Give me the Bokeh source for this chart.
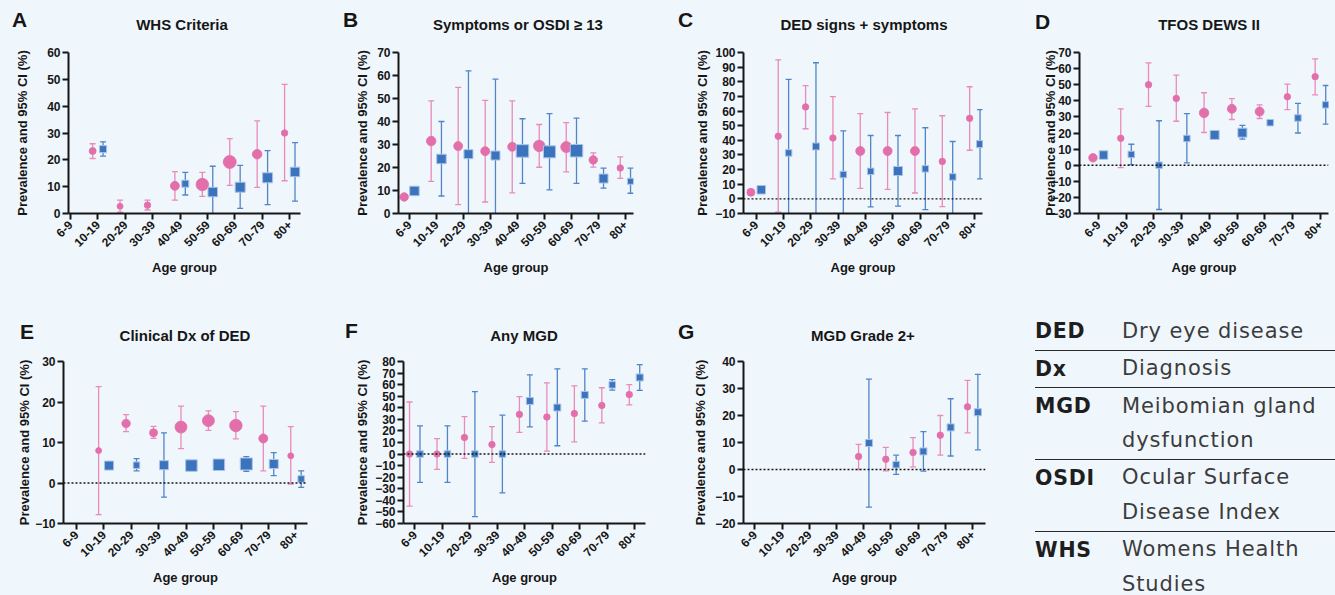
import numpy as np
from bokeh.plotting import figure
from bokeh.models import Range1d, FixedTicker, Span, Div
from bokeh.layouts import row, column
from bokeh.embed import file_html
from bokeh.resources import INLINE

N = float("nan")

age_groups = ["6-9", "10-19", "20-29", "30-39", "40-49", "50-59", "60-69", "70-79", "80+"]

# A: WHS Criteria  (pink = women, blue = men)
a_f = [N, 23.3, 2.7, 3.1, 10.3, 10.8, 19.2, 22.1, 30.0]
a_f_lo = [N, 20.5, 0.5, 1.3, 5.0, 6.4, 10.5, 9.7, 12.2]
a_f_hi = [N, 26.0, 5.0, 5.0, 15.6, 15.3, 27.9, 34.5, 48.1]
a_m = [N, 24.0, N, N, 11.1, 8.0, 9.8, 13.3, 15.5]
a_m_lo = [N, 21.4, N, N, 6.9, -1.5, 1.9, 3.3, 4.6]
a_m_hi = [N, 26.7, N, N, 15.3, 17.6, 17.9, 23.4, 26.4]

# B: Symptoms or OSDI >= 13
b_f = [7.2, 31.5, 29.3, 27.1, 29.0, 29.4, 28.9, 23.3, 19.8]
b_f_lo = [N, 14.0, 3.9, 5.0, 9.0, 20.1, 18.1, 20.2, 15.3]
b_f_hi = [N, 49.0, 54.8, 49.2, 49.0, 38.7, 39.5, 26.4, 24.6]
b_m = [9.8, 23.7, 25.8, 25.2, 27.2, 26.8, 27.3, 15.2, 14.0]
b_m_lo = [N, 7.6, -2.0, -2.0, 13.1, 10.3, 13.1, 11.0, 8.8]
b_m_hi = [N, 40.0, 62.0, 58.4, 41.2, 43.4, 41.5, 19.7, 19.7]

# C: DED signs + symptoms
c_f = [4.5, 42.8, 62.8, 41.6, 32.7, 32.7, 32.7, 25.6, 55.0]
c_f_lo = [N, -9.0, 47.9, 13.7, 7.1, 6.5, 4.0, -5.3, 33.2]
c_f_hi = [N, 95.0, 77.3, 69.8, 58.2, 59.0, 61.5, 56.8, 76.6]
c_m = [6.2, 31.4, 35.8, 16.6, 18.8, 19.0, 20.5, 15.0, 37.4]
c_m_lo = [N, -12.0, -12.0, -12.0, -5.5, -5.0, -7.4, -12.0, 13.7]
c_m_hi = [N, 81.6, 93.0, 46.4, 43.3, 43.3, 48.6, 39.2, 61.0]

# D: TFOS DEWS II
d_f = [4.6, 16.7, 50.0, 41.5, 32.5, 35.0, 33.3, 42.5, 55.0]
d_f_lo = [N, -1.5, 36.5, 27.3, 20.3, 28.4, 29.0, 34.5, 43.7]
d_f_hi = [N, 35.0, 63.5, 56.0, 45.0, 41.4, 37.5, 50.3, 66.0]
d_m = [6.3, 6.7, 0.0, 16.6, 18.8, 20.2, 26.4, 29.3, 37.5]
d_m_lo = [N, 0.3, -27.5, 1.4, N, 16.2, N, 20.0, 25.5]
d_m_hi = [N, 13.0, 27.6, 32.0, N, 24.7, N, 38.4, 49.5]

# E: Clinical Dx of DED
e_f = [N, 8.0, 14.7, 12.4, 13.8, 15.4, 14.2, 11.0, 6.7]
e_f_lo = [N, -7.8, 12.7, 11.0, 8.5, 13.0, 10.9, 3.0, -0.3]
e_f_hi = [N, 23.8, 16.9, 14.0, 19.0, 17.8, 17.6, 19.0, 13.9]
e_m = [N, 4.3, 4.4, 4.4, 4.3, 4.5, 4.7, 4.7, 1.0]
e_m_lo = [N, N, 3.0, -3.5, N, N, 2.9, 1.8, -1.1]
e_m_hi = [N, N, 6.0, 12.4, N, N, 6.5, 7.5, 3.0]

# F: Any MGD
f_f = [0.0, 0.0, 14.3, 8.2, 34.3, 32.0, 35.0, 42.0, 51.4]
f_f_lo = [-45.0, -13.3, -3.7, -7.2, 18.7, 2.6, 10.6, 27.0, 42.6]
f_f_hi = [45.0, 13.3, 32.4, 23.8, 49.6, 61.5, 59.0, 57.3, 60.1]
f_m = [0.0, 0.0, 0.0, 0.0, 45.9, 40.2, 51.1, 59.8, 66.2]
f_m_lo = [-24.4, -24.4, -54.0, -33.6, 23.5, 7.2, 28.4, 55.3, 55.0]
f_m_hi = [24.4, 24.4, 54.0, 33.6, 68.4, 73.7, 73.7, 64.4, 77.3]

# G: MGD Grade 2+
g_f = [N, N, N, N, 4.8, 3.8, 6.3, 12.7, 23.2]
g_f_lo = [N, N, N, N, 0.0, -0.5, 1.0, 5.3, 13.6]
g_f_hi = [N, N, N, N, 9.3, 8.2, 11.8, 20.0, 33.0]
g_m = [N, N, N, N, 9.8, 1.8, 6.7, 15.6, 21.2]
g_m_lo = [N, N, N, N, -13.9, -1.8, -0.6, 5.0, 7.3]
g_m_hi = [N, N, N, N, 33.5, 5.3, 14.0, 26.2, 35.2]

# marker sizes (weights shown by symbol size, px)
a_f_size = [6, 7, 6, 6.5, 9, 12.5, 13, 9.5, 6.5]
a_m_size = [6, 7, 6, 6, 7, 9.5, 10, 10, 9.5]
b_f_size = [8.5, 9.5, 9, 9, 9, 11.5, 11, 8.5, 6.5]
b_m_size = [9.5, 9.5, 9, 9, 12.5, 12, 12.5, 9, 6]
c_f_size = [8, 6.5, 6.5, 6.5, 9, 9, 9, 6.5, 6.5]
c_m_size = [8.5, 6.5, 7, 6.5, 6.5, 9, 6.5, 6.5, 7]
d_f_size = [8.5, 6.5, 6.5, 6.5, 9.5, 9, 9, 6.5, 6.5]
d_m_size = [8.5, 6.5, 6.5, 6.5, 9, 9, 6.5, 6.5, 6.5]
e_f_size = [6, 6, 8.5, 8, 12, 12, 12.5, 9, 6]
e_m_size = [6, 9, 6.5, 9, 11.5, 11.5, 12, 9, 6.5]
f_f_size = [6.5] * 9
f_m_size = [6.5, 6.5, 6.5, 6.5, 7, 7, 7, 6.5, 7]
g_f_size = [6.5] * 9
g_m_size = [6.5, 6.5, 6.5, 6.5, 7, 6.5, 7, 7, 7]

glossary_abbr = ["DED", "Dx", "MGD", "OSDI", "WHS"]
glossary_text = [["Dry eye disease"], ["Diagnosis"], ["Meibomian gland", "dysfunction"],
                 ["Ocular Surface", "Disease Index"], ["Womens Health", "Studies"]]

BG = "#F0F7FC"
PINK = "#E36FAA"
PINK_BAR = "#EA8ABB"
BLUE = "#3B74BD"
BLUE_BAR = "#5185C8"
INK = "#161616"
FONT = "Liberation Sans"
CSS_FONT = "'Liberation Sans', Arial, sans-serif"
FILL = {"background-color": BG}


def header(width, height, letter, letter_left, letter_cy, title, title_cx, title_cy):
    lt = letter_cy - 0.4885 * 21
    tt = title_cy - 0.4885 * 15
    html = (
        f'<div style="position:relative;width:{width}px;height:{height}px;background:{BG};overflow:hidden;">'
        f'<div style="position:absolute;left:{letter_left}px;top:{lt:.1f}px;font-family:{CSS_FONT};'
        f'font-weight:bold;font-size:21px;line-height:1;color:{INK};white-space:nowrap;">{letter}</div>'
        f'<div style="position:absolute;left:{title_cx - 160}px;width:320px;top:{tt:.1f}px;text-align:center;'
        f'font-family:{CSS_FONT};font-weight:bold;font-size:15px;line-height:1;color:{INK};'
        f'white-space:nowrap;">{title}</div>'
        '</div>'
    )
    return Div(text=html, width=width, height=height, margin=0, styles=FILL)


def panel(f, flo, fhi, fsz, m, mlo, mhi, msz, ylim, xlim,
          width, height, bl, br, bt, bb, zero, ylab_off):
    p = figure(width=width, height=height, x_range=Range1d(*xlim), y_range=Range1d(*ylim),
               output_backend="svg", toolbar_location=None,
               min_border_left=bl, min_border_right=br, min_border_top=bt, min_border_bottom=bb,
               background_fill_color=BG, border_fill_color=BG, outline_line_color=None)
    p.xgrid.visible = False
    p.ygrid.visible = False
    idx = np.arange(len(age_groups))
    xf = idx - 0.19
    xm = idx + 0.19
    if zero:
        p.add_layout(Span(location=0, dimension="width", line_color=INK,
                          line_dash="2 2", line_width=1.4))
    for xs, lo, hi, col in ((xf, flo, fhi, PINK_BAR), (xm, mlo, mhi, BLUE_BAR)):
        p.segment(x0=xs, y0=lo, x1=xs, y1=hi, line_color=col, line_width=1.3)
        p.scatter(x=xs, y=lo, marker="dash", size=6, line_color=col, line_width=1.3)
        p.scatter(x=xs, y=hi, marker="dash", size=6, line_color=col, line_width=1.3)
    p.scatter(x=xf, y=f, size=fsz, marker="circle", fill_color=PINK, line_color=PINK, line_width=0.8)
    p.scatter(x=xm, y=m, size=msz, marker="square", fill_color=BLUE, line_color="#A9C3E8", line_width=1)

    p.xaxis.ticker = FixedTicker(ticks=list(range(len(age_groups))))
    p.xaxis.major_label_overrides = {i: c for i, c in enumerate(age_groups)}
    p.xaxis.major_label_orientation = np.pi / 4
    p.yaxis.ticker = FixedTicker(ticks=list(range(ylim[0], ylim[1] + 1, 10)))
    p.xaxis.axis_label = "Age group"
    p.yaxis.axis_label = "Prevalence and 95% CI (%)"
    for ax in (p.xaxis[0], p.yaxis[0]):
        ax.axis_line_width = 2
        ax.axis_line_color = INK
        ax.major_tick_line_width = 2
        ax.major_tick_line_color = INK
        ax.major_tick_in = 0
        ax.major_tick_out = 6
        ax.minor_tick_line_color = None
        ax.major_label_text_font = FONT
        ax.major_label_text_font_style = "bold"
        ax.major_label_text_font_size = "12px"
        ax.major_label_text_color = INK
        ax.axis_label_text_font = FONT
        ax.axis_label_text_font_style = "bold"
        ax.axis_label_text_font_size = "13px"
        ax.axis_label_text_color = INK
    p.yaxis.major_label_standoff = 2
    p.xaxis.major_label_standoff = 3
    p.yaxis.axis_label_standoff = ylab_off
    p.xaxis.axis_label_standoff = 6
    return p


TOP_HEAD, TOP_PLOT = 40, 252
BOT_HEAD, BOT_PLOT = 53, 250

pA = panel(a_f, a_f_lo, a_f_hi, a_f_size, a_m, a_m_lo, a_m_hi, a_m_size,
           (0, 60), (-0.07, 8.39), 330, TOP_PLOT, 68, 30, 12, 79, False, 14)
pB = panel(b_f, b_f_lo, b_f_hi, b_f_size, b_m, b_m_lo, b_m_hi, b_m_size,
           (0, 70), (-0.40, 8.3), 330, TOP_PLOT, 68, 27, 12, 79, False, 4)
pC = panel(c_f, c_f_lo, c_f_hi, c_f_size, c_m, c_m_lo, c_m_hi, c_m_size,
           (-10, 100), (-0.46, 8.28), 340, TOP_PLOT, 83, 18, 12, 79, True, 2)
pD = panel(d_f, d_f_lo, d_f_hi, d_f_size, d_m, d_m_lo, d_m_hi, d_m_size,
           (-30, 70), (-0.675, 8.29), 335, TOP_PLOT, 79, 7, 12, 79, True, -10)
pE = panel(e_f, e_f_lo, e_f_hi, e_f_size, e_m, e_m_lo, e_m_hi, e_m_size,
           (-10, 30), (-0.47, 8.42), 330, BOT_PLOT, 63, 23, 16, 72, True, 0)
pF = panel(f_f, f_f_lo, f_f_hi, f_f_size, f_m, f_m_lo, f_m_hi, f_m_size,
           (-60, 80), (-0.41, 8.4), 330, BOT_PLOT, 73, 15, 16, 72, True, 2)
pG = panel(g_f, g_f_lo, g_f_hi, g_f_size, g_m, g_m_lo, g_m_hi, g_m_size,
           (-20, 40), (-0.415, 8.47), 340, BOT_PLOT, 83, 15, 16, 72, True, 4)

hA = header(330, TOP_HEAD, "A", 12, 19.3, "WHS Criteria", 182, 24.7)
hB = header(330, TOP_HEAD, "B", 13, 19.3, "Symptoms or OSDI \u2265 13", 188, 24.7)
hC = header(340, TOP_HEAD, "C", 18, 19.3, "DED signs + symptoms", 204, 24.7)
hD = header(335, TOP_HEAD, "D", 35, 21.0, "TFOS DEWS II", 209, 24.7)
hE = header(330, BOT_HEAD, "E", 20, 39.7, "Clinical Dx of DED", 185, 43)
hF = header(330, BOT_HEAD, "F", 15, 38.0, "Any MGD", 194, 43)
hG = header(340, BOT_HEAD, "G", 18, 39.0, "MGD Grade 2+", 203, 43)

# glossary table
TW, TH = 335, BOT_HEAD + BOT_PLOT
ABBR_PX, DESC_PX = 20.5, 21
parts = [f'<div style="position:relative;width:{TW}px;height:{TH}px;background:{BG};overflow:hidden;">']
base = 46.3
LINE = 34.4
for k, (ab, lines) in enumerate(zip(glossary_abbr, glossary_text)):
    parts.append(
        f'<div style="position:absolute;left:35px;top:{base - 0.846 * ABBR_PX:.1f}px;'
        f"font-family:'DejaVu Sans',sans-serif;font-weight:bold;font-size:{ABBR_PX}px;line-height:1;"
        f'letter-spacing:0.8px;color:#1e1e1e;white-space:nowrap;">{ab}</div>')
    for j, ln in enumerate(lines):
        parts.append(
            f'<div style="position:absolute;left:122px;top:{base + j * LINE - 0.846 * DESC_PX:.1f}px;'
            f"font-family:'DejaVu Sans',sans-serif;font-weight:normal;font-size:{DESC_PX}px;line-height:1;"
            f'letter-spacing:0.9px;color:#3c3c3c;white-space:nowrap;">{ln}</div>')
    last = base + (len(lines) - 1) * LINE
    if k < len(glossary_abbr) - 1:
        rule = last + 12
        parts.append(f'<div style="position:absolute;left:35px;width:{TW - 35}px;top:{rule - 0.75:.1f}px;'
                     f'height:0;border-top:1.5px solid #2a2a2a;"></div>')
        base = rule + 25.5
parts.append('</div>')
table = Div(text="".join(parts), width=TW, height=TH, margin=0, styles=FILL)

layout = column(
    row(column(hA, pA, styles=FILL), column(hB, pB, styles=FILL),
        column(hC, pC, styles=FILL), column(hD, pD, styles=FILL), styles=FILL),
    row(column(hE, pE, styles=FILL), column(hF, pF, styles=FILL),
        column(hG, pG, styles=FILL), table, styles=FILL),
    styles=FILL,
)
open("out.html", "w").write(file_html(layout, INLINE))
